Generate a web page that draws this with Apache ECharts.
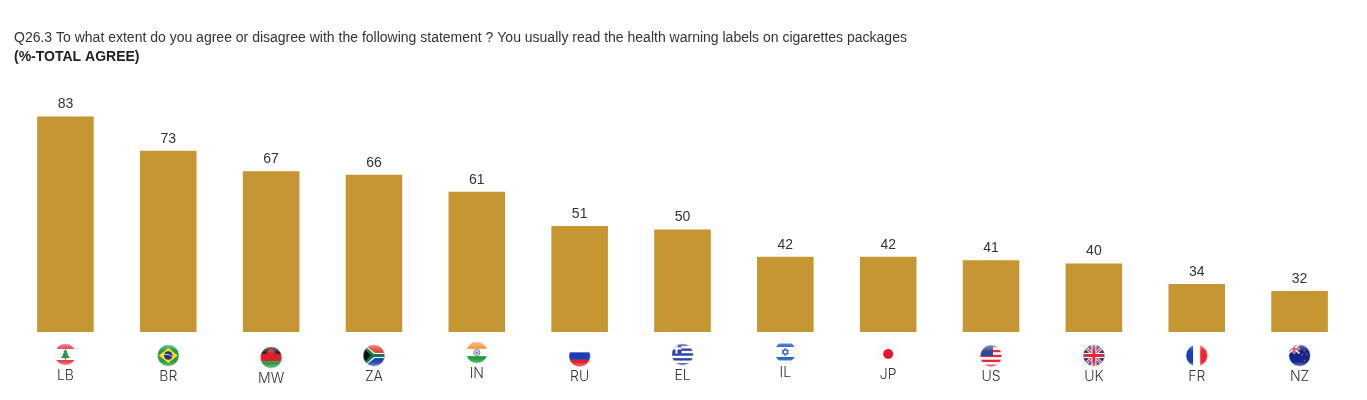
<!DOCTYPE html>
<html>
<head>
<meta charset="utf-8">
<style>html,body{margin:0;padding:0;background:#fff}#main{width:1367px;height:400px}</style>
<script src="https://cdn.jsdelivr.net/npm/echarts@6/dist/echarts.min.js"></script>
</head>
<body>
<div id="main"></div>
<script>
var countries = ['LB','BR','MW','ZA','IN','RU','EL','IL','JP','US','UK','FR','NZ'];
var agree = [83,73,67,66,61,51,50,42,42,41,40,34,32];
// the flags do not sit on one line in the original
var labelDrop = [2.5,3.5,5.5,3.5,0.5,4,2.5,0,2,4,3.5,3.5,3.5];

var questionText = 'Q26.3 To what extent do you agree or disagree with the following statement ? You usually read the health warning labels on cigarettes packages';
var unitText = '(%-TOTAL AGREE)';

function stripes(cols) {
  var h = 44 / cols.length, s = '';
  cols.forEach(function (c, i) { s += '<rect x="0" y="' + i * h + '" width="44" height="' + (h + 0.5) + '" fill="' + c + '"/>'; });
  return s;
}
var flagArt = {
  LB: '<rect width="44" height="44" fill="#fff"/><rect width="44" height="11" fill="#e8394a"/><rect y="33" width="44" height="11" fill="#e8394a"/>' +
      '<path d="M22 11l4 6h-2l4 5h-2l5 7H13l5-7h-2l4-5h-2z" fill="#1f9a50"/><rect x="20.5" y="29" width="3" height="3" fill="#1f9a50"/>',
  BR: '<rect width="44" height="44" fill="#1f9e45"/><path d="M22 7L41 22 22 37 3 22z" fill="#ffd92e"/><circle cx="22" cy="22" r="8.5" fill="#27337f"/><path d="M14 20q8-2 16 4" stroke="#fff" stroke-width="1.4" fill="none"/>',
  MW: stripes(['#222','#d8232a','#2a9c45']) + '<path d="M13 15a9 9 0 0 1 18 0z" fill="#d8232a"/>',
  ZA: stripes(['#e2483d','#e2483d','#2443b5','#2443b5']) + '<path d="M0 0L22 22 0 44z" fill="#ffb81c"/><path d="M0 4L18 22 0 40z" fill="#111"/><path d="M2 0L24 17H44V27H24L2 44H-2L20 22-2 0z" fill="#fff"/><path d="M0 0L22 19H44V25H22L0 44V38L16 22 0 6z" fill="#0f7a4a"/>',
  IN: stripes(['#f79a3c','#fff','#1f9e3a']) + '<circle cx="22" cy="22" r="6" fill="none" stroke="#2f3f8f" stroke-width="1.5"/><circle cx="22" cy="22" r="3" fill="#7b84b8"/>',
  RU: stripes(['#fff','#1a3fb5','#e5202e']),
  EL: stripes(['#2a3fa8','#fff','#2a3fa8','#fff','#2a3fa8','#fff','#2a3fa8','#fff','#2a3fa8']) + '<rect width="20" height="20" fill="#2a3fa8"/><rect x="8" width="4" height="20" fill="#fff"/><rect y="8" width="20" height="4" fill="#fff"/>',
  IL: '<rect width="44" height="44" fill="#fff"/><rect y="5" width="44" height="7" fill="#2a62c4"/><rect y="32" width="44" height="7" fill="#2a62c4"/><path d="M22 14l6.5 11.5h-13zM22 30l-6.5-11.5h13z" fill="none" stroke="#2a62c4" stroke-width="2"/>',
  JP: '<rect width="44" height="44" fill="#fff"/><circle cx="22" cy="22" r="10" fill="#ee1133"/>',
  US: stripes(['#e5283c','#fff','#e5283c','#fff','#e5283c','#fff','#e5283c','#fff','#e5283c']) + '<rect width="26" height="22" fill="#33478f"/>',
  UK: '<rect width="44" height="44" fill="#27408f"/><path d="M0 0L44 44M44 0L0 44" stroke="#fff" stroke-width="6"/><path d="M0 0L44 44M44 0L0 44" stroke="#e5283c" stroke-width="2.5"/><path d="M22 0V44M0 22H44" stroke="#fff" stroke-width="10"/><path d="M22 0V44M0 22H44" stroke="#e5283c" stroke-width="6"/>',
  FR: '<rect width="15" height="44" fill="#1a3fb5"/><rect x="15" width="14" height="44" fill="#fff"/><rect x="29" width="15" height="44" fill="#ee2436"/>',
  NZ: '<rect width="44" height="44" fill="#12268f"/><rect width="22" height="18" fill="#27408f"/><path d="M0 0L22 18M22 0L0 18" stroke="#fff" stroke-width="3"/><path d="M11 0V18M0 9H22" stroke="#fff" stroke-width="5"/><path d="M11 0V18M0 9H22" stroke="#e5283c" stroke-width="3"/><g fill="#e5283c"><circle cx="32" cy="12" r="1.8"/><circle cx="37" cy="20" r="1.8"/><circle cx="27" cy="21" r="1.8"/><circle cx="32" cy="32" r="1.8"/></g>'
};

function flagUri(code) {
  var svg = '<svg xmlns="http://www.w3.org/2000/svg" width="44" height="44" viewBox="0 0 44 44">' +
    '<defs><clipPath id="c"><circle cx="22" cy="22" r="21.5"/></clipPath>' +
    '<linearGradient id="g" x1="0" y1="0" x2="0" y2="1"><stop offset="0" stop-color="#fff" stop-opacity="0.4"/><stop offset="0.3" stop-color="#fff" stop-opacity="0"/><stop offset="0.78" stop-color="#fff" stop-opacity="0"/><stop offset="1" stop-color="#fff" stop-opacity="0.4"/></linearGradient></defs>' +
    '<g clip-path="url(#c)">' + flagArt[code] + '<rect width="44" height="44" fill="url(#g)"/></g>' +
    '<circle cx="22" cy="22" r="21.5" fill="none" stroke="#e6e6e6" stroke-width="1"/></svg>';
  return 'data:image/svg+xml;charset=utf-8,' + encodeURIComponent(svg);
}

var richStyles = {
  name: { fontFamily: 'Inter', fontSize: 14, color: '#333', fontWeight: 300, lineHeight: 20, align: 'center' }
};
countries.forEach(function (c) {
  richStyles['f' + c] = { width: 22, height: 22, align: 'center', backgroundColor: { image: flagUri(c) } };
});

var myChart = echarts.init(document.getElementById('main'), null, { renderer: 'canvas' });
myChart.setOption({
  animation: false,
  backgroundColor: '#fff',
  title: {
    text: questionText,
    subtext: unitText,
    left: 14,
    top: 30,
    padding: 0,
    itemGap: 3,
    textStyle: { fontFamily: 'Liberation Sans', fontSize: 14, fontWeight: 'normal', color: '#333', lineHeight: 16 },
    subtextStyle: { fontFamily: 'Liberation Sans', fontSize: 14, fontWeight: 'bold', color: '#222', lineHeight: 16 }
  },
  grid: { left: 14, right: 16, top: 116.5, bottom: 68 },
  xAxis: {
    type: 'category',
    data: countries.map(function (c, i) {
      return { value: c, textStyle: { padding: [labelDrop[i], 0, 0, 0] } };
    }),
    axisLine: { show: false },
    axisTick: { show: false },
    axisLabel: {
      interval: 0,
      margin: 9,
      formatter: function (v) { return '{f' + v + '|}\n{name|' + v + '}'; },
      rich: richStyles
    }
  },
  yAxis: { type: 'value', min: 20, max: 83, show: false, splitLine: { show: false } },
  series: [{
    type: 'bar',
    data: agree,
    barWidth: '55%',
    itemStyle: { color: '#C69632' },
    label: {
      show: true,
      position: 'top',
      distance: 5,
      fontFamily: 'Liberation Sans',
      fontSize: 14,
      color: '#333'
    }
  }]
});
window.onresize = function () { myChart.resize(); };
</script>
</body>
</html>
